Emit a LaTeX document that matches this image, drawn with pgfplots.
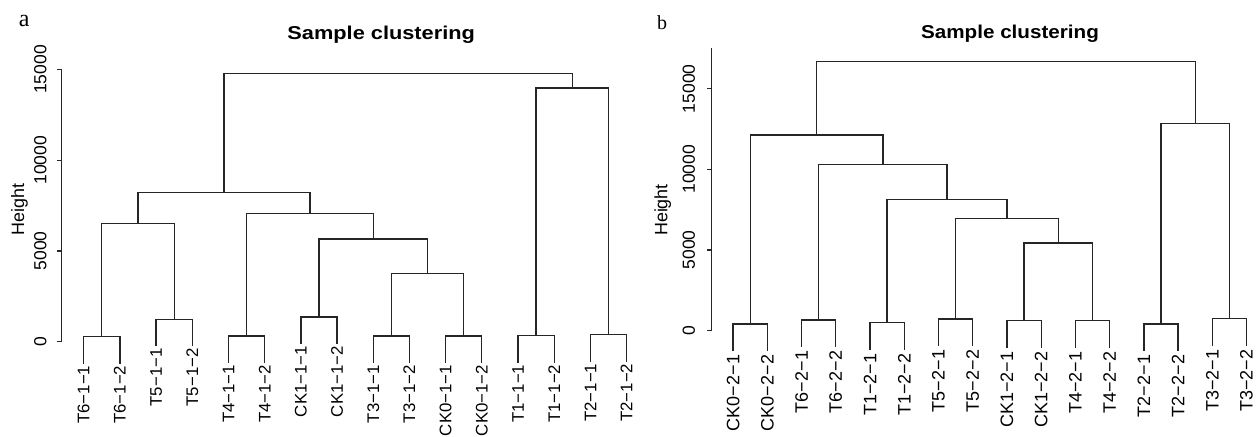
\documentclass[border=0pt]{standalone}
\usepackage{fontspec}
\setmainfont{Liberation Sans}
\newfontfamily\tfa[FakeStretch=1.17]{Liberation Sans}
\newfontfamily\tfb[FakeStretch=1.11]{Liberation Sans}
\newfontfamily\serf{Liberation Serif}
\usepackage{pgfplots}
\pgfplotsset{compat=1.18}
\tikzset{
  leaf/.style={rotate=90, anchor=east, inner xsep=3.4bp, inner ysep=0pt, text=black, font=\fontsize{18bp}{20bp}\selectfont},
  leafa/.style={rotate=90, anchor=east, inner xsep=1.6bp, inner ysep=0pt, text=black, font=\fontsize{16.8bp}{19bp}\selectfont},
  tl/.style={rotate=90, anchor=south, inner sep=0pt, text=black, font=\fontsize{17.5bp}{20bp}\selectfont},
  hl/.style={rotate=90, anchor=base, inner sep=0pt, text=black, font=\fontsize{17.9bp}{20bp}\selectfont}
}
\pgfplotsset{dendro/.style={scale only axis, clip=false,
  axis x line=none, axis y line=left, y axis line style={draw=none},
  xtick=\empty, ytick={0,5000,10000,15000}, yticklabels={},
  scaled y ticks=false,
  tick align=outside, major tick length=4.5bp,
  ytick style={draw=black!85, line width=1.3bp, solid},
  cycle list={{black!85, solid, line width=1.3bp, mark=none}},
  every axis plot post/.append style={black!85, solid, line width=1.3bp, mark=none}}}
\begin{document}
\begin{tikzpicture}
\useasboundingbox (0,0) rectangle (1258bp,437bp);
\node[anchor=base, font=\serf\fontsize{24bp}{26bp}\selectfont] at (24.2bp,410.3bp) {a};
\node[anchor=base, font=\serf\fontsize{20bp}{22bp}\selectfont] at (662bp,407bp) {b};
% ---------------- panel a ----------------
\begin{axis}[dendro, at={(61.7bp,40.85bp)}, anchor=south west,
  width=586.6bp, height=363bp, xmin=0.392, xmax=16.6, ymin=-3000, ymax=17000]
\addplot coordinates {(0.392,0) (0.392,15000)};
\addplot coordinates {(1,-1202) (1,275) (2,275) (2,-1202)} node[leafa,pos=0]{T6−1−1} node[leafa,pos=1]{T6−1−2};
\addplot coordinates {(3,-243) (3,1234) (4,1234) (4,-243)} node[leafa,pos=0]{T5−1−1} node[leafa,pos=1]{T5−1−2};
\addplot coordinates {(5,-1163) (5,314) (6,314) (6,-1163)} node[leafa,pos=0]{T4−1−1} node[leafa,pos=1]{T4−1−2};
\addplot coordinates {(7,-117) (7,1360) (8,1360) (8,-117)} node[leafa,pos=0]{CK1−1−1} node[leafa,pos=1]{CK1−1−2};
\addplot coordinates {(9,-1167) (9,310) (10,310) (10,-1167)} node[leafa,pos=0]{T3−1−1} node[leafa,pos=1]{T3−1−2};
\addplot coordinates {(11,-1167) (11,310) (12,310) (12,-1167)} node[leafa,pos=0]{CK0−1−1} node[leafa,pos=1]{CK0−1−2};
\addplot coordinates {(13,-1147) (13,330) (14,330) (14,-1147)} node[leafa,pos=0]{T1−1−1} node[leafa,pos=1]{T1−1−2};
\addplot coordinates {(15,-1091) (15,386) (16,386) (16,-1091)} node[leafa,pos=0]{T2−1−1} node[leafa,pos=1]{T2−1−2};
\addplot coordinates {(1.5,275) (1.5,6500) (3.5,6500) (3.5,1234)};
\addplot coordinates {(9.5,310) (9.5,3747) (11.5,3747) (11.5,310)};
\addplot coordinates {(7.5,1360) (7.5,5658) (10.5,5658) (10.5,3747)};
\addplot coordinates {(5.5,314) (5.5,7074) (9,7074) (9,5658)};
\addplot coordinates {(2.5,6500) (2.5,8209) (7.25,8209) (7.25,7074)};
\addplot coordinates {(13.5,330) (13.5,13978) (15.5,13978) (15.5,386)};
\addplot coordinates {(4.875,8209) (4.875,14766) (14.5,14766) (14.5,13978)};
\node[tl] at ([xshift=-15bp]axis cs:0.392,0) {0};
\node[tl] at ([xshift=-15bp]axis cs:0.392,5000) {5000};
\node[tl] at ([xshift=-15bp]axis cs:0.392,10000) {10000};
\node[tl] at ([xshift=-15bp]axis cs:0.392,15000) {15000};
\node[hl] at ([xshift=-37.7bp]axis cs:0.392,7300) {Height};
\node[anchor=base, text=black, font=\tfa\bfseries\fontsize{18.6bp}{20bp}\selectfont] at (axis cs:9.22,16661) {Sample clustering};
\end{axis}
% ---------------- panel b ----------------
\begin{axis}[dendro, at={(711.7bp,58.14bp)}, anchor=south west,
  width=545.1bp, height=354.64bp, xmin=0.375, xmax=16.3, ymin=-3000, ymax=19000]
\addplot coordinates {(0.375,0) (0.375,17500)};
\addplot coordinates {(1,-1267) (1,403) (2,403) (2,-1267)} node[leaf,pos=0]{CK0−2−1} node[leaf,pos=1]{CK0−2−2};
\addplot coordinates {(3,-1019) (3,651) (4,651) (4,-1019)} node[leaf,pos=0]{T6−2−1} node[leaf,pos=1]{T6−2−2};
\addplot coordinates {(5,-1186) (5,484) (6,484) (6,-1186)} node[leaf,pos=0]{T1−2−1} node[leaf,pos=1]{T1−2−2};
\addplot coordinates {(7,-957) (7,713) (8,713) (8,-957)} node[leaf,pos=0]{T5−2−1} node[leaf,pos=1]{T5−2−2};
\addplot coordinates {(9,-1059) (9,611) (10,611) (10,-1059)} node[leaf,pos=0]{CK1−2−1} node[leaf,pos=1]{CK1−2−2};
\addplot coordinates {(11,-1059) (11,611) (12,611) (12,-1059)} node[leaf,pos=0]{T4−2−1} node[leaf,pos=1]{T4−2−2};
\addplot coordinates {(13,-1267) (13,403) (14,403) (14,-1267)} node[leaf,pos=0]{T2−2−1} node[leaf,pos=1]{T2−2−2};
\addplot coordinates {(15,-938) (15,732) (16,732) (16,-938)} node[leaf,pos=0]{T3−2−1} node[leaf,pos=1]{T3−2−2};
\addplot coordinates {(9.5,611) (9.5,5428) (11.5,5428) (11.5,611)};
\addplot coordinates {(7.5,713) (7.5,6936) (10.5,6936) (10.5,5428)};
\addplot coordinates {(5.5,484) (5.5,8139) (9,8139) (9,6936)};
\addplot coordinates {(3.5,651) (3.5,10310) (7.25,10310) (7.25,8139)};
\addplot coordinates {(1.5,403) (1.5,12128) (5.375,12128) (5.375,10310)};
\addplot coordinates {(13.5,403) (13.5,12854) (15.5,12854) (15.5,732)};
\addplot coordinates {(3.4375,12128) (3.4375,16700) (14.5,16700) (14.5,12854)};
\node[tl] at ([xshift=-16.5bp]axis cs:0.375,0) {0};
\node[tl] at ([xshift=-16.5bp]axis cs:0.375,5000) {5000};
\node[tl] at ([xshift=-16.5bp]axis cs:0.375,10000) {10000};
\node[tl] at ([xshift=-16.5bp]axis cs:0.375,15000) {15000};
\node[hl] at ([xshift=-44.4bp]axis cs:0.375,7475) {Height};
\node[anchor=base, text=black, font=\tfb\bfseries\fontsize{18.6bp}{20bp}\selectfont] at (axis cs:9.09,18083) {Sample clustering};
\end{axis}
\end{tikzpicture}
\end{document}
